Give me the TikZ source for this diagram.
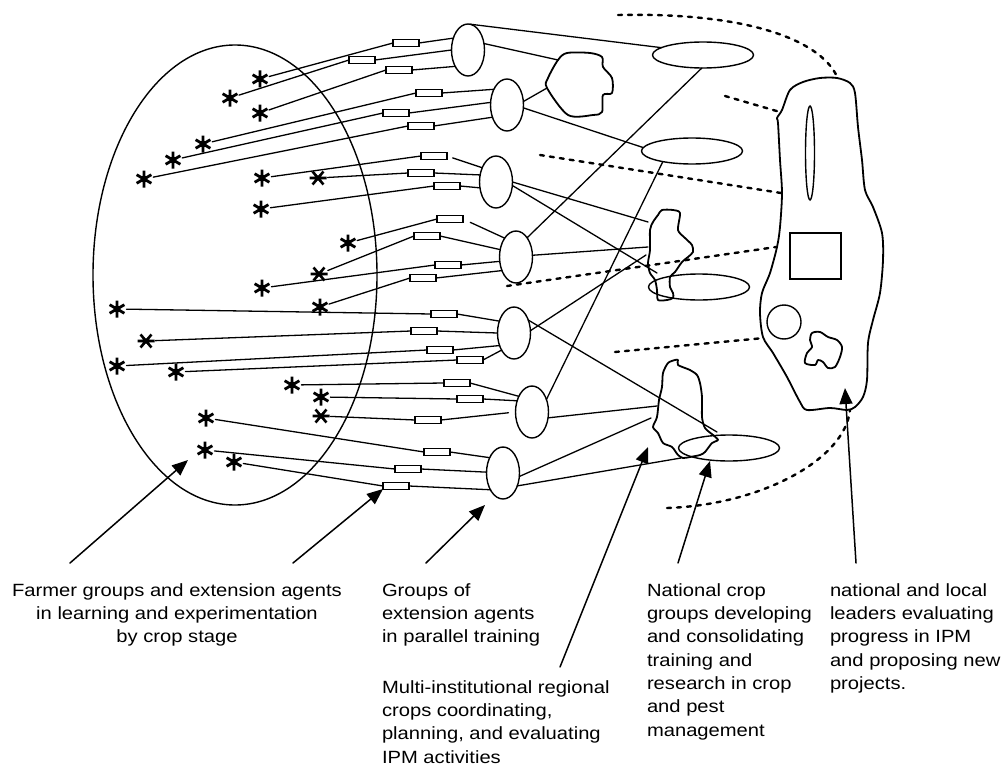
\documentclass[tikz,border=0pt]{standalone}
\usepackage{fontspec}
\newfontfamily\labelfont[FakeStretch=1.14]{Liberation Sans}
\usetikzlibrary{shapes.geometric,arrows.meta}

\tikzset{
  link/.style={line width=1.3bp},
  shapeline/.style={line width=1.4bp},
  blob/.style={line width=1.8bp, line join=round},
  linkage/.style={line width=2.4bp, dash pattern=on 4bp off 6bp},
  pointer/.style={line width=1.5bp, -{Triangle[length=16bp,width=13bp]}},
  farmer/.style={circle, minimum size=19bp, inner sep=0pt, outer sep=0pt,
    path picture={
      \draw[line width=2.8bp, line cap=butt, shift={(path picture bounding box.center)}]
        (90:8.5) -- (270:8.5) (30:8.5) -- (210:8.5) (150:8.5) -- (330:8.5);
      \fill[shift={(path picture bounding box.center)}] (0,0) circle (3.6);}},
  farmerx/.style={circle, minimum size=19bp, inner sep=0pt, outer sep=0pt,
    path picture={
      \draw[line width=2.6bp, line cap=butt, shift={(path picture bounding box.center)}]
        (0:8.5) -- (180:8.5) (50:8.5) -- (230:8.5) (130:8.5) -- (310:8.5);
      \fill[shift={(path picture bounding box.center)}] (0,0) circle (2.6);}},
  agentbox/.style={draw, rectangle, line width=1.2bp, minimum width=26bp,
    minimum height=7bp, inner sep=0pt, outer sep=0pt},
  groupoval/.style={draw, ellipse, shapeline, minimum width=33bp,
    minimum height=52bp, inner sep=0pt, outer sep=0pt},
  cropoval/.style={draw, ellipse, shapeline, minimum width=101bp,
    minimum height=26bp, inner sep=0pt, outer sep=0pt},
  caption/.style={inner sep=0pt, outer sep=0pt,
    font=\labelfont\fontsize{17.7bp}{23.3bp}\selectfont}
}

\begin{document}
\begin{tikzpicture}[x=1bp, y=-1bp, line cap=round]
\useasboundingbox[fill=white] (0,0) rectangle (1002,766);

% farmer field school area
\node[draw, ellipse, shapeline, minimum width=284bp, minimum height=460bp,
  inner sep=0pt, outer sep=0pt] (field) at (235,275) {};

% farmer groups
\node[farmer]  (s1)  at (260,79)  {};
\node[farmer]  (s2)  at (230,98)  {};
\node[farmer]  (s3)  at (260,113) {};
\node[farmer]  (s4)  at (203,144) {};
\node[farmer]  (s5)  at (173,160) {};
\node[farmer]  (s6)  at (144,179) {};
\node[farmer]  (s7)  at (262,178) {};
\node[farmerx] (s8)  at (318,178) {};
\node[farmer]  (s9)  at (261,209) {};
\node[farmer]  (s10) at (348,243) {};
\node[farmerx] (s11) at (319,274) {};
\node[farmer]  (s12) at (262,288) {};
\node[farmer]  (s13) at (320,307) {};
\node[farmer]  (s14) at (117,309) {};
\node[farmerx] (s15) at (146,341) {};
\node[farmer]  (s16) at (117,366) {};
\node[farmer]  (s17) at (176,372) {};
\node[farmer]  (s18) at (292,385) {};
\node[farmer]  (s19) at (321,397) {};
\node[farmerx] (s20) at (321,416) {};
\node[farmer]  (s21) at (206,418) {};
\node[farmer]  (s22) at (205,450) {};
\node[farmer]  (s23) at (234,462) {};

% extension agents
\node[agentbox] (r1)  at (406,43)  {};
\node[agentbox] (r2)  at (362,60)  {};
\node[agentbox] (r3)  at (399,70)  {};
\node[agentbox] (r4)  at (429,93)  {};
\node[agentbox] (r5)  at (396,113) {};
\node[agentbox] (r6)  at (421,126) {};
\node[agentbox] (r7)  at (434,156) {};
\node[agentbox] (r8)  at (421,173) {};
\node[agentbox] (r9)  at (447,186) {};
\node[agentbox] (r10) at (450,219) {};
\node[agentbox] (r11) at (427,236) {};
\node[agentbox] (r12) at (448,265) {};
\node[agentbox] (r13) at (423,278) {};
\node[agentbox] (r14) at (444,314) {};
\node[agentbox] (r15) at (424,331) {};
\node[agentbox] (r16) at (440,350) {};
\node[agentbox] (r17) at (470,360) {};
\node[agentbox] (r18) at (457,383) {};
\node[agentbox] (r19) at (470,399) {};
\node[agentbox] (r20) at (428,420) {};
\node[agentbox] (r21) at (437,452) {};
\node[agentbox] (r22) at (408,469) {};
\node[agentbox] (r23) at (396,486) {};

% groups in parallel training
\node[groupoval] (g1) at (468,50)  {};
\node[groupoval] (g2) at (507,105) {};
\node[groupoval] (g3) at (496,182) {};
\node[groupoval] (g4) at (516,257) {};
\node[groupoval] (g5) at (514,333) {};
\node[groupoval] (g6) at (532,412) {};
\node[groupoval] (g7) at (503,473) {};

% national crop groups
\node[cropoval] (e1) at (703,55)  {};
\node[cropoval] (e2) at (692,151) {};
\node[cropoval] (e3) at (699,287) {};
\node[cropoval] (e4) at (729,448) {};

% regional crop bodies
\draw[blob] plot[smooth cycle, tension=0.5] coordinates {
  (558,60) (567,53) (590,53) (602,57) (603,67) (612,78) (612,93) (603,95)
  (602,112) (593,115) (568,115) (547,88) (548,78)};
\draw[blob] plot[smooth cycle, tension=0.45] coordinates {
  (662,210) (673,210) (680,213) (678,230) (685,238) (692,245) (693,252)
  (688,257) (682,262) (675,272) (670,277) (670,287) (673,293) (673,298)
  (667,300) (658,300) (657,290) (655,280) (650,273) (648,263) (650,250)
  (650,230) (653,222) (658,215)};
\draw[blob] plot[smooth cycle, tension=0.45] coordinates {
  (675,360) (678,360) (678,365) (690,370) (697,375) (700,383) (702,397)
  (702,417) (705,428) (713,435) (718,440) (712,443) (705,452) (700,455)
  (690,457) (683,458) (678,455) (672,447) (663,443) (658,433) (653,427)
  (657,417) (659,400) (662,387) (663,373) (668,363)};

% national leaders
\draw[blob] plot[smooth cycle, tension=0.5] coordinates {
  (837,78) (850,83) (855,93) (858,127) (862,160) (865,190) (873,207)
  (882,233) (883,260) (880,293) (873,320) (868,343) (867,380) (863,397)
  (855,407) (847,410) (830,408) (807,410) (800,402) (787,377) (773,353)
  (763,337) (760,313) (762,293) (770,273) (777,247) (780,227) (782,193)
  (780,160) (778,123) (777,118) (782,110) (790,90) (803,82) (820,78)};
\node[draw, ellipse, shapeline, minimum width=9bp, minimum height=94bp,
  inner sep=0pt] (lead1) at (810,153) {};
\node[draw, rectangle, shapeline, minimum width=51bp, minimum height=46bp,
  inner sep=0pt] (lead2) at (815.5,256) {};
\node[draw, circle, shapeline, minimum size=34bp, inner sep=0pt] (lead3)
  at (784,322) {};
\draw[blob] plot[smooth cycle, tension=0.5] coordinates {
  (812,333) (820,332) (828,337) (837,340) (842,347) (840,357) (835,367)
  (828,368) (823,362) (818,360) (815,365) (805,363) (807,353) (812,347)
  (810,340)};

% connector end points on the drawn outlines
\coordinate (b1a) at (558,60);
\coordinate (b1b) at (547,88);
\coordinate (b2a) at (648,222);
\coordinate (b2b) at (648,247);
\coordinate (b2c) at (646,255);
\coordinate (b2d) at (657,273);
\coordinate (b3a) at (657,406);
\coordinate (b3b) at (651,418);
\coordinate (b3c) at (717,432);
\coordinate (e4c) at (681,458);

% farmer groups to extension agents
\foreach \i in {1,...,23} { \draw[link] (s\i) -- (r\i.west); }

% extension agents to training groups
\draw[link] (r1.east) -- (g1.141);
\draw[link] (r2.east) -- (g1.180);
\draw[link] (r3.east) -- (g1.232);
\draw[link] (r4.east) -- (g2.130);
\draw[link] (r5.east) -- (g2.171);
\draw[link] (r6.east) -- (g2.220);
\draw[link, shorten <=6bp] (r7.east) -- (g3.134);
\draw[link] (r8.east) -- (g3.156);
\draw[link] (r9.east) -- (g3.200);
\draw[link, shorten <=8bp] (r10.east) -- (g4.121);
\draw[link] (r11.east) -- (g4.155);
\draw[link] (r12.east) -- (g4.195);
\draw[link] (r13.east) -- (g4.224);
\draw[link] (r14.east) -- (g5.141);
\draw[link] (r15.east) -- (g5.180);
\draw[link] (r16.east) -- (g5.221);
\draw[link] (r17.east) -- (g5.234);
\draw[link] (r18.east) -- (g6.130);
\draw[link] (r19.east) -- (g6.143);
\draw[link, shorten >=7bp] (r20.east) -- (g6.180);
\draw[link] (r21.east) -- (g7.131);
\draw[link] (r22.east) -- (g7.177);
\draw[link] (r23.east) -- (g7.233);

% training groups to regional and national bodies
\draw[link] (g1.86) -- (e1.170);
\draw[link] (g1.22) -- (b1a);
\draw[link] (g2.12) -- (b1b);
\draw[link] (g2.350) -- (e2.176);
\draw[link] (e1.265) -- (g4.60);
\draw[link] (g3.0) -- (b2a);
\draw[link] (g3.348) -- (b2d);
\draw[link] (g4.6) -- (b2b);
\draw[link] (g5.8) -- (b2c);
\draw[link] (g5.42) -- (b3c);
\draw[link] (e2.200) -- (g6.41);
\draw[link] (g6.340) -- (b3a);
\draw[link] (g7.348) -- (b3b);
\draw[link] (g7.318) -- (e4c);

% dashed links to the national leaders
\coordinate (q1) at (618,15);  \coordinate (p1) at (838,79);
\coordinate (q2) at (725,96);  \coordinate (p2) at (780,112);
\coordinate (q3) at (540,155); \coordinate (p3) at (781,193);
\coordinate (q4) at (507,286); \coordinate (p4) at (776,247);
\coordinate (q5) at (615,352); \coordinate (p5) at (764,338);
\coordinate (q6) at (667,508); \coordinate (p6) at (850,410);
\draw[linkage] (q1) .. controls (760,12) and (825,45) .. (p1);
\draw[linkage] (q2) -- (p2);
\draw[linkage] (q3) -- (p3);
\draw[linkage] (q4) -- (p4);
\draw[linkage] (q5) -- (p5);
\draw[linkage] (q6) .. controls (760,505) and (845,460) .. (p6);

% captions
\node[caption, anchor=north, align=center] (t1) at (177,583.5)
  {Farmer groups and extension agents\\in learning and experimentation\\by crop stage};
\node[caption, anchor=north west, align=left] (t2) at (382,583.5)
  {Groups of\\extension agents\\in parallel training};
\node[caption, anchor=north west, align=left] (t3) at (382,680.5)
  {Multi-institutional regional\\crops coordinating,\\planning, and evaluating\\IPM activities};
\node[caption, anchor=north west, align=left] (t4) at (647,583.5)
  {National crop\\groups developing\\and consolidating\\training and\\research in crop\\and pest\\management};
\node[caption, anchor=north west, align=left] (t5) at (830,583.5)
  {national and local\\leaders evaluating\\progress in IPM\\and proposing new\\projects.};

% pointers
\coordinate (a1s) at (70,563);  \coordinate (a1e) at (188,460);
\coordinate (a2s) at (293,563); \coordinate (a2e) at (383,489);
\coordinate (a3s) at (426,563); \coordinate (a3e) at (485,505);
\coordinate (a4s) at (560,667); \coordinate (a4e) at (648,447);
\coordinate (a5s) at (678,563); \coordinate (a5e) at (710,461);
\coordinate (a6s) at (856,563); \coordinate (a6e) at (845,388);
\draw[pointer] (a1s) -- (a1e);
\draw[pointer] (a2s) -- (a2e);
\draw[pointer] (a3s) -- (a3e);
\draw[pointer] (a4s) -- (a4e);
\draw[pointer] (a5s) -- (a5e);
\draw[pointer] (a6s) -- (a6e);
\end{tikzpicture}
\end{document}
